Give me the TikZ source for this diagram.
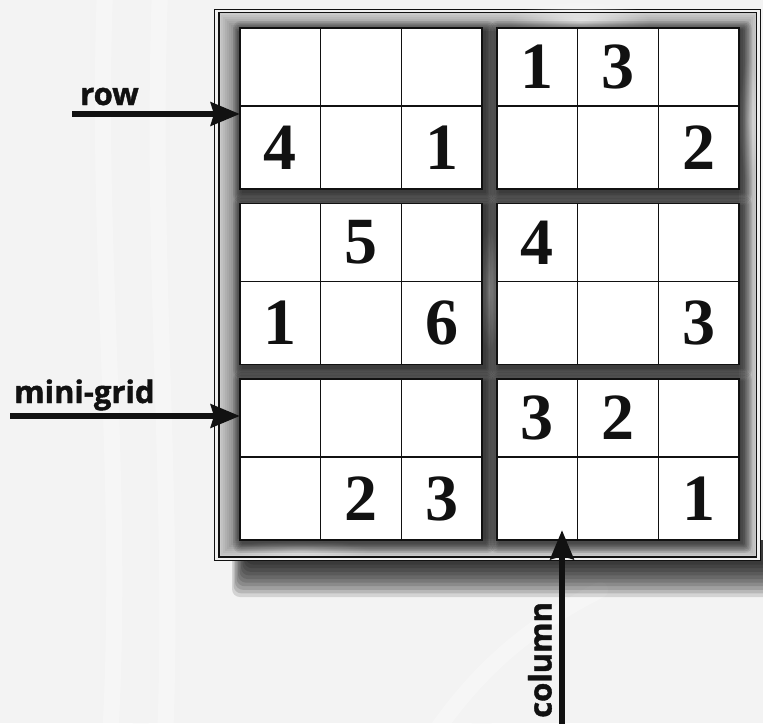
\documentclass[tikz,border=0pt]{standalone}
\usepackage{fontspec}
\setmainfont{Liberation Serif}
\newfontfamily\labelfont{Open Sans}[BoldFeatures={FakeBold=1.3}]
\usetikzlibrary{arrows.meta,positioning,calc,fadings}
\definecolor{paperbg}{HTML}{F3F3F3}
\definecolor{framegray}{HTML}{7C7C7C}
\definecolor{inkblack}{HTML}{111111}
\tikzfading[name=glowfade,inner color=transparent!0,outer color=transparent!100]
\tikzset{
  minigrid/.style={rectangle,draw=inkblack,line width=1.4pt,fill=white,anchor=north west,
    minimum width=242pt,minimum height=161pt,inner sep=0pt,outer sep=0pt},
  gridline/.style={draw=inkblack,line width=1.4pt},
  digit/.style={font=\fontsize{66}{66}\selectfont\bfseries,inner sep=0pt,text=inkblack},
  lbl/.style={font=\fontsize{31}{31}\selectfont\labelfont\bfseries,inner sep=0pt,text=inkblack},
  pointer/.style={draw=inkblack,line width=6.5pt,-{Stealth[length=29pt,width=23pt,inset=3pt]}},
  streak/.style={line width=16pt,opacity=0.3,line cap=round},
  glow/.style={fill=white,path fading=glowfade}
}

\begin{document}
\begin{tikzpicture}[x=1pt,y=-1pt]
  \useasboundingbox (0,0) rectangle (763,723);
  \fill[paperbg] (0,0) rectangle (763,723);
  \draw[streak,white] (105,-10) .. controls (95,250) and (125,480) .. (110,740);
  \draw[streak,white] (160,-10) .. controls (150,260) and (175,500) .. (165,740);
  \draw[streak,gray!8] (135,-10) .. controls (128,250) and (150,500) .. (140,740);
  \draw[streak,white] (430,740) .. controls (470,680) and (520,630) .. (600,590);
  \draw[streak,gray!8] (470,740) .. controls (510,680) and (560,640) .. (640,600);
  % shadow under the frame
  \foreach \k in {0,...,9}
    \fill[black,opacity=0.13,rounded corners=8pt] (232+1.5*\k,540) rectangle (775,597-3.6*\k);
  % frame
  \fill[gray!12] (214.5,9) rectangle (760,560);
  \draw[inkblack,line width=0.9pt] (214.5,9) rectangle (760,560);
  \fill[framegray] (219,12.5) rectangle (756.5,557);
  \foreach \k [evaluate=\k as \op using 0.6-0.065*\k] in {0,...,8}
    \draw[white,opacity=\op,line width=2pt] (220+2*\k,13.5+2*\k) rectangle (755.5-2*\k,556-2*\k);
  \fill[glow,opacity=0.7] (580,22) ellipse (70pt and 22pt);
  \fill[glow,opacity=0.5] (489,290) ellipse (12pt and 60pt);
  \fill[glow,opacity=0.5] (748,120) ellipse (10pt and 60pt);
  \fill[glow,opacity=0.5] (300,550) ellipse (70pt and 10pt);
  \draw[inkblack,line width=1.2pt] (219,12.5) rectangle (756.5,557);
  % shadows of the mini-grids
  \foreach \r in {0,1,2}{
    \foreach \c in {0,1}{
      \foreach \s in {1,...,7}
        \fill[black,opacity=0.09,rounded corners=\s pt]
          (243+257*\c-1.4*\s,31+175.5*\r-1.4*\s) rectangle (485+257*\c+1.4*\s,192+175.5*\r+1.4*\s);
    }
  }
  % mini-grids
  \foreach \r in {0,1,2}{
    \foreach \c in {0,1}{
      \node[minigrid] (g\r\c) at (240+257*\c,28+175.5*\r) {};
      \draw[gridline] ([xshift=80.7pt]g\r\c.north west) -- ([xshift=80.7pt]g\r\c.south west);
      \draw[gridline] ([xshift=161.4pt]g\r\c.north west) -- ([xshift=161.4pt]g\r\c.south west);
      \draw[gridline] ([yshift=-78pt]g\r\c.north west) -- ([yshift=-78pt]g\r\c.north east);
    }
  }
  % givens
  \foreach \x/\y/\n [count=\i] in {537.3/67/1,618/67/3,
      280.3/147.5/4,441.7/147.5/1,698.7/147.5/2,
      361/242.5/5,537.3/242.5/4,
      280.3/323/1,441.7/323/6,698.7/323/3,
      537.3/418/3,618/418/2,
      361/498.5/2,441.7/498.5/3,698.7/498.5/1}
    \node[digit] (d\i) at (\x,\y) {\n};
  % pointers
  \coordinate (rowtail) at (72,114);
  \coordinate (gridtail) at (10,416);
  \coordinate (coltail) at (562,726);
  \draw[pointer] (rowtail) -- (rowtail -| g00.west);
  \draw[pointer] (gridtail) -- (gridtail -| g20.west);
  \draw[pointer] (coltail) -- ([yshift=10pt]coltail |- g21.south);
  \node[lbl,anchor=base west] (rowlabel) at (80,105) {row};
  \node[lbl,anchor=base west] (gridlabel) at (14,403) {mini-grid};
  \node[lbl,anchor=base west,rotate=90] (collabel) at (551.5,718) {column};
\end{tikzpicture}
\end{document}
